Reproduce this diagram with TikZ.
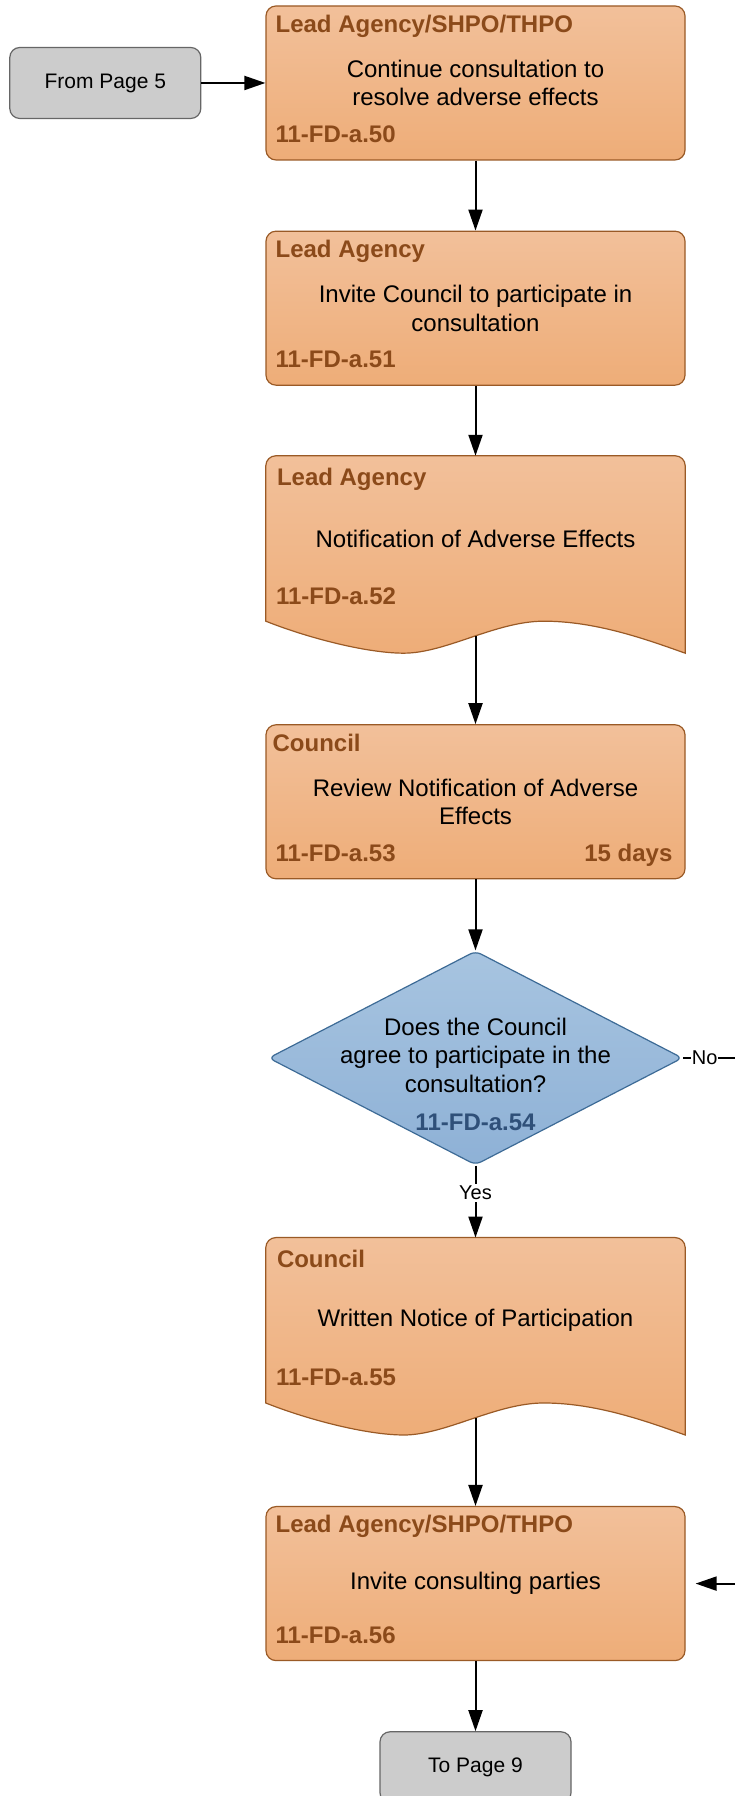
\documentclass[tikz,border=0pt]{standalone}
\usepackage{fontspec}
\setmainfont{Liberation Sans}
\usetikzlibrary{positioning,shapes.geometric,arrows.meta,backgrounds}

\definecolor{boxtop}{HTML}{F2C09A}
\definecolor{boxbot}{HTML}{EEAD78}
\definecolor{boxline}{HTML}{9A5A26}
\definecolor{rolebrown}{HTML}{8B4A1A}
\definecolor{decitop}{HTML}{A7C4E0}
\definecolor{decibot}{HTML}{8EB1D6}
\definecolor{deciline}{HTML}{3D6B96}
\definecolor{decicode}{HTML}{2F5079}
\definecolor{pagegray}{HTML}{CCCCCC}
\definecolor{pageline}{HTML}{666666}

% outline of a document box, drawn behind node #1
\newcommand\docshape[1]{%
  \path[docline] (#1.south west) -- ([yshift=-10pt]#1.north west)
    arc[start angle=180,end angle=90,radius=10pt] -- ([xshift=-10pt]#1.north east)
    arc[start angle=90,end angle=0,radius=10pt] -- ([yshift=-32pt]#1.south east)
    .. controls ([shift={(380,-18)}]#1.south west) and ([shift={(330,0)}]#1.south west) .. ([shift={(278,0)}]#1.south west)
    .. controls ([shift={(230,0)}]#1.south west) and ([shift={(180,-32)}]#1.south west) .. ([shift={(138,-32)}]#1.south west)
    .. controls ([shift={(100,-32)}]#1.south west) and ([shift={(40,-16)}]#1.south west) .. (#1.south west) -- cycle;}

\begin{document}
\begin{tikzpicture}[x=1pt,y=1pt,node distance=70pt,
    maintext/.style={align=center,font=\fontsize{24}{28.5}\selectfont},
    procbox/.style={maintext,rectangle,rounded corners=10pt,draw=boxline,line width=1.2pt,
      top color=boxtop,bottom color=boxbot,minimum width=419pt,minimum height=154pt},
    docbox/.style={maintext,rectangle,minimum width=419pt,minimum height=165pt},
    docline/.style={draw=boxline,line width=1.2pt,top color=boxtop,bottom color=boxbot},
    decision/.style={diamond,rounded corners=6pt,draw=deciline,line width=1.2pt,
      top color=decitop,bottom color=decibot,minimum width=414pt,minimum height=214pt,inner sep=0pt},
    pagebox/.style={rectangle,rounded corners=10pt,draw=pageline,line width=1.2pt,fill=pagegray,
      minimum width=191pt,minimum height=71pt,font=\fontsize{21}{25}\selectfont},
    role/.style={text=rolebrown,font=\fontsize{24}{28.5}\selectfont\bfseries,inner sep=0pt},
    decicode/.style={role,text=decicode},
    flowlabel/.style={fill=white,inner sep=2pt,font=\fontsize{20}{24}\selectfont},
    flow/.style={draw,line width=2pt,-{Triangle[length=21pt,width=14pt]}}]
  \begin{scope}[on background layer]
    \fill[white] (0,0) rectangle (735,1796);
  \end{scope}
  \useasboundingbox (0,0) rectangle (735,1796);

  \node[procbox] (a50) at (475.5,1713) {Continue consultation to\\resolve adverse effects};
  \node[pagebox] (from5) [left=64pt of a50] {From Page 5};
  \node[procbox] (a51) [below=of a50] {Invite Council to participate in\\consultation};
  \node[docbox] (a52) [below=of a51] {Notification of Adverse Effects};
  \node[procbox] (a53) [below=103pt of a52] {Review Notification of Adverse\\Effects};
  \node[decision] (a54) [below=71pt of a53] {};
  \node[docbox] (a55) [below=72pt of a54] {Written Notice of Participation};
  \node[procbox] (a56) [below=103pt of a55] {Invite consulting parties};
  \node[pagebox] (to9) [below=of a56] {To Page 9};

  \begin{scope}[on background layer]
    \docshape{a52}
    \docshape{a55}
  \end{scope}

  % labels inside the boxes
  \node[role,anchor=base west] (a50r) at ([xshift=10pt,yshift=-27pt]a50.north west) {Lead Agency/SHPO/THPO};
  \node[role,anchor=base west] (a50c) at ([xshift=10pt,yshift=18pt]a50.south west) {11-FD-a.50};
  \node[role,anchor=base west] (a51r) at ([xshift=10pt,yshift=-27pt]a51.north west) {Lead Agency};
  \node[role,anchor=base west] (a51c) at ([xshift=10pt,yshift=18pt]a51.south west) {11-FD-a.51};
  \node[role,anchor=base west] (a52r) at ([xshift=11pt,yshift=-30pt]a52.north west) {Lead Agency};
  \node[role,anchor=base west] (a52c) at ([xshift=10pt,yshift=17pt]a52.south west) {11-FD-a.52};
  \node[role,anchor=base west] (a53r) at ([xshift=7pt,yshift=-27pt]a53.north west) {Council};
  \node[role,anchor=base west] (a53c) at ([xshift=10pt,yshift=18pt]a53.south west) {11-FD-a.53};
  \node[role,anchor=base east] (a53d) at ([xshift=-13pt,yshift=18pt]a53.south east) {15 days};
  \node[maintext] (a54q) at ([yshift=3pt]a54.center) {Does the Council\\agree to participate in the\\consultation?};
  \node[decicode,anchor=base] (a54c) at ([yshift=-73pt]a54.center) {11-FD-a.54};
  \node[role,anchor=base west] (a55r) at ([xshift=11pt,yshift=-30pt]a55.north west) {Council};
  \node[role,anchor=base west] (a55c) at ([xshift=10pt,yshift=17pt]a55.south west) {11-FD-a.55};
  \node[role,anchor=base west] (a56r) at ([xshift=10pt,yshift=-27pt]a56.north west) {Lead Agency/SHPO/THPO};
  \node[role,anchor=base west] (a56c) at ([xshift=10pt,yshift=18pt]a56.south west) {11-FD-a.56};

  \coordinate (noend) at ([xshift=60pt]a54.east);
  \coordinate (inend) at ([xshift=60pt]a56.east);

  \path[flow] (from5) edge (a50)
              (a50) edge (a51)
              (a51) edge (a52)
              ([yshift=-15pt]a52.south) edge (a53)
              (a53) edge (a54)
              (a54) edge node[flowlabel,pos=.38] {Yes} (a55)
              ([yshift=-15pt]a55.south) edge (a56)
              (a56) edge (to9)
              (inend) edge[shorten >=10pt] (a56.east);
  \draw[line width=2pt] (a54.east) -- node[flowlabel,pos=.36,inner sep=1pt] {No} (noend);
\end{tikzpicture}
\end{document}
